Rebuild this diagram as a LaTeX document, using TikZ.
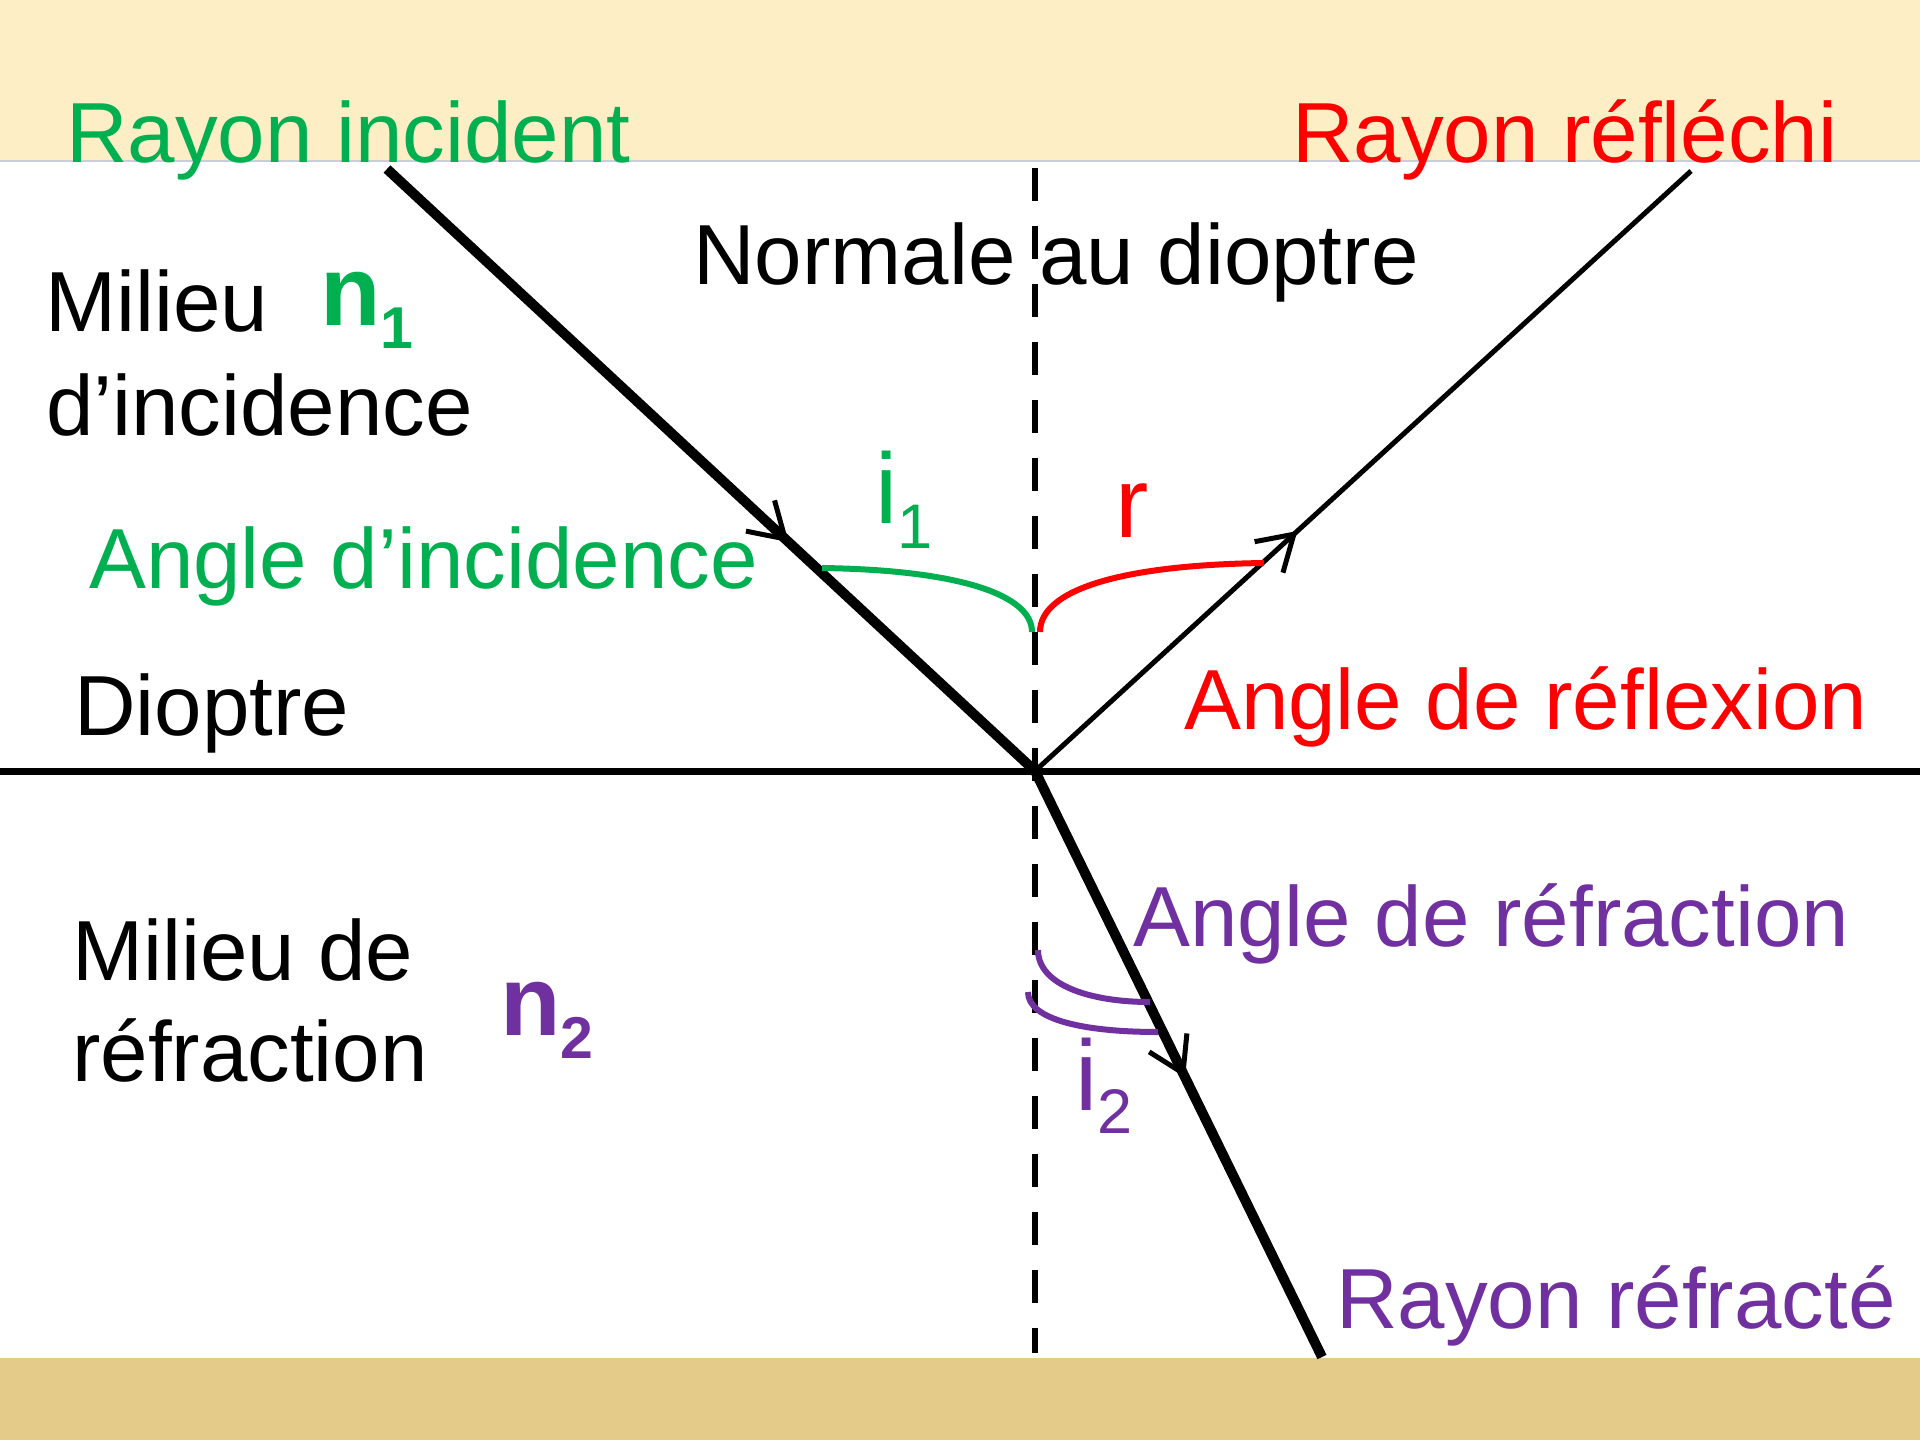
\documentclass[tikz,border=0pt]{standalone}
\usepackage{fontspec}
\setmainfont{Liberation Sans}
\usetikzlibrary{arrows.meta,decorations.markings}
\definecolor{pgreen}{HTML}{00B050}
\definecolor{pred}{HTML}{FF0000}
\definecolor{ppurple}{HTML}{7030A0}
\definecolor{topband}{HTML}{FDEEC5}
\definecolor{botband}{HTML}{E4CB8A}
\definecolor{bandline}{HTML}{C9CED9}
\newcommand\mysub[3]{\raisebox{-#1pt}{\fontsize{#2}{#2}\selectfont #3}}
\begin{document}
\begin{tikzpicture}[x=1pt,y=-1pt,
  txt/.style={anchor=base west, inner sep=0pt, font=\fontsize{85.3}{100}\selectfont},
  lbl/.style={anchor=base west, inner sep=0pt, font=\fontsize{100}{110}\selectfont},
  idx/.style={anchor=base west, inner sep=0pt, font=\fontsize{99}{110}\selectfont\bfseries},
  raybase/.style={line width=#1, black},
  midarrow/.style={postaction={decorate, decoration={markings, mark=at position #1 with {\arrow{Straight Barb[length=34pt,width=42pt,line width=5pt]}}}}},
  anglearc/.style={line width=6pt, line cap=butt}
]
\useasboundingbox (0,0) rectangle (1920,1440);
% bands
\fill[white] (0,0) rectangle (1920,1440);
\fill[topband] (0,0) rectangle (1920,160);
\draw[bandline, line width=2pt] (0,161) -- (1920,161);
\fill[botband] (0,1358) rectangle (1920,1440);

% key points
\coordinate (O) at (1035,771);
\coordinate (A) at (387,169);
\coordinate (R) at (1691,171);
\coordinate (T) at (1322,1357);
\coordinate (N1) at (1035,168);
\coordinate (N2) at (1035,1353);
\coordinate (D1) at (0,771);
\coordinate (D2) at (1920,771);

% normal and dioptre
\draw[line width=6.5pt, dash pattern=on 33pt off 25pt] (N1) -- (N2);
\draw[line width=7pt] (D1) -- (D2);

% rays
\draw[raybase=10pt, midarrow=0.62] (A) -- (O);
\draw[raybase=5pt, midarrow=0.40] (O) -- (R);
\draw[raybase=10pt, midarrow=0.523] (O) -- (T);

% angle arcs
\coordinate (g0) at (822,568);
\coordinate (g1) at (1032,632);
\draw[anglearc, pgreen] (g0) .. controls (960,570) and (1032,595) .. (g1);
\coordinate (r0) at (1040,632);
\coordinate (r1) at (1264,563);
\draw[anglearc, pred] (r0) .. controls (1040,590) and (1120,565) .. (r1);
\coordinate (p0) at (1038,950);
\coordinate (p1) at (1150,1002);
\draw[anglearc, ppurple] (p0) .. controls (1038,985) and (1090,1002) .. (p1);
\coordinate (q0) at (1028,992);
\coordinate (q1) at (1158,1032);
\draw[anglearc, ppurple] (q0) .. controls (1028,1020) and (1085,1032) .. (q1);

% texts
\node[txt, text=pgreen] (tinc) at (66,162) {Rayon incident};
\node[txt, text=pred] (tref) at (1292,162) {Rayon réfléchi};
\node[txt] (tnorm) at (693,284) {Normale au dioptre};
\node[txt] (tmil1) at (45,331) {Milieu};
\node[txt] (tmil2) at (46,435) {d’incidence};
\node[idx, text=pgreen] (n1) at (320,325) {n\mysub{23}{59}{1}};
\node[txt, text=pgreen] (tangi) at (89,588) {Angle d’incidence};
\node[lbl, text=pgreen] (i1) at (875,523) {i\mysub{25}{63}{1}};
\node[lbl, text=pred] (r) at (1115,537) {r};
\node[txt] (tdio) at (74,735) {Dioptre};
\node[txt, text=pred] (tangr) at (1184,729) {Angle de réflexion};
\node[txt, text=ppurple] (tangt) at (1133,946) {Angle de réfraction};
\node[txt] (tmr1) at (72,980) {Milieu de};
\node[txt] (tmr2) at (72,1081) {réfraction};
\node[idx, text=ppurple] (n2) at (500,1035) {n\mysub{23}{59}{2}};
\node[lbl, text=ppurple] (i2) at (1075,1110) {i\mysub{23}{63}{2}};
\node[txt, text=ppurple] (tray) at (1336,1328) {Rayon réfracté};
\end{tikzpicture}
\end{document}
